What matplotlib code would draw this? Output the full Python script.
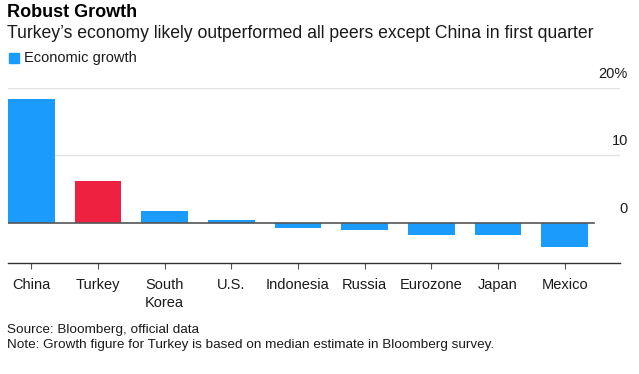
import matplotlib.pyplot as plt
import matplotlib.transforms as mtransforms
import numpy as np

plt.rcParams['font.family'] = ['Liberation Sans', 'DejaVu Sans']

# Data
countries = ['China', 'Turkey', 'South\nKorea', 'U.S.', 'Indonesia', 'Russia',
             'Eurozone', 'Japan', 'Mexico']
growth = [18.3, 6.2, 1.8, 0.4, -0.7, -1.0, -1.8, -1.8, -3.6]
highlight = 'Turkey'
y_ticks = [0, 10, 20]
y_tick_labels = ['0', '10', '20%']

blue = '#1b9cfc'
red = '#ee2140'

fig = plt.figure(figsize=(6.39, 3.74), dpi=100)
ax = fig.add_axes([8 / 639, 1 - 263 / 374, 612 / 639, 175 / 374])

x = np.arange(len(countries))
colors = [red if c == highlight else blue for c in countries]
ax.bar(x, growth, width=0.7, color=colors, zorder=2)

ax.set_xlim(-0.35, 8.83)
ax.set_ylim(-5.93, 20)

# gridlines (not at zero) and the zero line
for t in y_ticks:
    if t != 0:
        ax.axhline(t, color='#e2e2e2', lw=1, zorder=1)
ax.plot([-0.35, 8.44], [0, 0], color='#555555', lw=1.2, zorder=3)

# y labels on the right, sitting above their gridlines
ax.set_yticks([])
trans = mtransforms.blended_transform_factory(ax.transAxes, ax.transData)
trans = mtransforms.offset_copy(trans, fig=fig, x=8, y=7, units='dots')
for t, lab in zip(y_ticks, y_tick_labels):
    ax.text(1.0, t, lab, transform=trans, ha='right', va='bottom',
            fontsize=10.5, color='#1a1a1a', clip_on=False)

# x axis
for s in ['top', 'right', 'left']:
    ax.spines[s].set_visible(False)
ax.spines['bottom'].set_color('#333333')
ax.spines['bottom'].set_linewidth(1)
ax.set_xticks(x)
ax.set_xticklabels(countries, fontsize=10.5, color='#1a1a1a', linespacing=1.3,
                   va='top')
ax.tick_params(axis='x', length=4, color='#555555', pad=7)

# titles, legend, notes
fig.text(7 / 639, 1 - 4 / 374, 'Robust Growth', fontsize=13, fontweight='bold',
         va='top', ha='left')
fig.text(7 / 639, 1 - 25 / 374,
         'Turkey\u2019s economy likely outperformed all peers except China in first quarter',
         fontsize=12.7, va='top', ha='left', color='#1a1a1a')
fig.patches.append(plt.Rectangle((9 / 639, 1 - 63 / 374), 10 / 639, 10 / 374,
                                 transform=fig.transFigure, color=blue,
                                 figure=fig))
fig.text(24 / 639, 1 - 58 / 374, 'Economic growth', fontsize=10.5,
         va='center', ha='left', color='#1a1a1a')
fig.text(7 / 639, 1 - 330 / 374, 'Source: Bloomberg, official data',
         fontsize=9.7, va='center', ha='left', color='#1a1a1a')
fig.text(7 / 639, 1 - 345 / 374,
         'Note: Growth figure for Turkey is based on median estimate in Bloomberg survey.',
         fontsize=9.7, va='center', ha='left', color='#1a1a1a')

fig.savefig('out.png', dpi=100)
